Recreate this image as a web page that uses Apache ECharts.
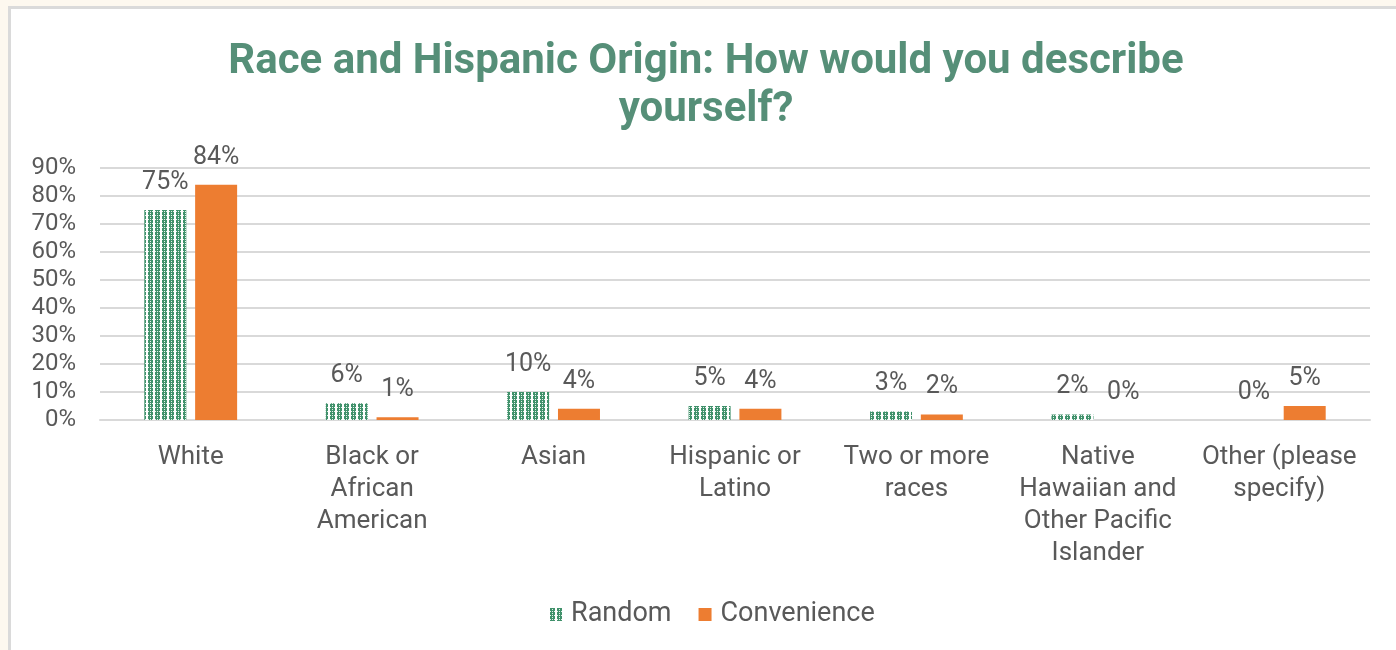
<!DOCTYPE html>
<html>
<head>
<meta charset="utf-8">
<script src="https://cdn.jsdelivr.net/npm/echarts@6/dist/echarts.min.js"></script>
<style>
  html, body { margin: 0; padding: 0; width: 1396px; height: 650px; overflow: hidden; background: #fdf8ef; }
  #panel { position: absolute; left: 8px; top: 6px; width: 1400px; height: 660px; background: #ffffff;
           border-left: 3px solid #dadada; border-top: 3px solid #dadada; box-sizing: border-box; }
  #chart { position: absolute; left: 0; top: 0; width: 1396px; height: 650px; }
</style>
</head>
<body>
<div id="panel"></div>
<div id="chart"></div>
<script>
// Survey answers, in percent
const categories = [
  'White',
  'Black or\nAfrican\nAmerican',
  'Asian',
  'Hispanic or\nLatino',
  'Two or more\nraces',
  'Native\nHawaiian and\nOther Pacific\nIslander',
  'Other (please\nspecify)'
];
const randomValues = [75, 6, 10, 5, 3, 2, 0];
const convenienceValues = [84, 1, 4, 4, 2, 0, 5];
const yTicks = [0, 10, 20, 30, 40, 50, 60, 70, 80, 90];

// Dotted-grid fill for the "Random" series
function makeGridPattern() {
  const c = document.createElement('canvas');
  c.width = 7; c.height = 4;
  const g = c.getContext('2d');
  g.fillStyle = '#ffffff';
  g.fillRect(0, 0, 7, 4);
  g.fillStyle = '#40916b';
  g.fillRect(1, 0, 5, 4);
  g.fillStyle = '#e6f1ec';
  g.fillRect(3, 1, 1, 1);
  g.fillRect(1, 3, 5, 1);
  g.fillStyle = '#40916b';
  g.fillRect(2, 3, 1, 1);
  g.fillRect(4, 3, 1, 1);
  return c;
}
const gridPattern = { image: makeGridPattern(), repeat: 'repeat' };

const labelStyle = {
  show: true,
  position: 'top',
  distance: 15,
  formatter: '{c}%',
  color: '#595959',
  fontFamily: 'Roboto',
  fontSize: 25
};

const chart = echarts.init(document.getElementById('chart'), null, { renderer: 'canvas' });
chart.setOption({
  backgroundColor: 'transparent',
  animation: false,
  title: {
    text: 'Race and Hispanic Origin: How would you describe\nyourself?',
    left: 701,
    textAlign: 'center',
    top: 33,
    textStyle: {
      fontFamily: 'Roboto',
      fontWeight: 'bold',
      fontSize: 42,
      lineHeight: 48,
      color: '#568f78'
    }
  },
  legend: {
    top: 596,
    left: 544,
    itemWidth: 13,
    itemHeight: 13,
    itemGap: 27,
    textStyle: { fontFamily: 'Roboto', fontSize: 27, color: '#595959', padding: [0, 0, 0, 4] },
    data: [
      { name: 'Random', icon: 'rect' },
      { name: 'Convenience', icon: 'rect' }
    ]
  },
  grid: { left: 100, right: 26, top: 168, bottom: 230, containLabel: false },
  xAxis: {
    type: 'category',
    data: categories,
    axisTick: { show: false },
    axisLine: { show: true, lineStyle: { color: '#d9d9d9', width: 2 } },
    axisLabel: {
      interval: 0,
      margin: 21,
      fontFamily: 'Roboto',
      fontSize: 26,
      lineHeight: 32,
      color: '#595959',
      align: 'center'
    }
  },
  yAxis: {
    type: 'value',
    min: 0,
    max: 90,
    interval: 10,
    axisLine: { show: false },
    axisTick: { show: false },
    splitLine: { lineStyle: { color: '#d9d9d9', width: 2 } },
    axisLabel: {
      margin: 24,
      fontFamily: 'Roboto',
      fontSize: 24,
      color: '#595959',
      formatter: v => (yTicks.includes(v) ? v + '%' : '')
    }
  },
  series: [
    {
      name: 'Random',
      type: 'bar',
      data: randomValues,
      barWidth: 42,
      barGap: '21%',
      itemStyle: { color: gridPattern },
      label: labelStyle
    },
    {
      name: 'Convenience',
      type: 'bar',
      data: convenienceValues,
      barWidth: 42,
      barGap: '21%',
      itemStyle: { color: '#ed7d31' },
      label: labelStyle
    }
  ]
});
</script>
</body>
</html>
